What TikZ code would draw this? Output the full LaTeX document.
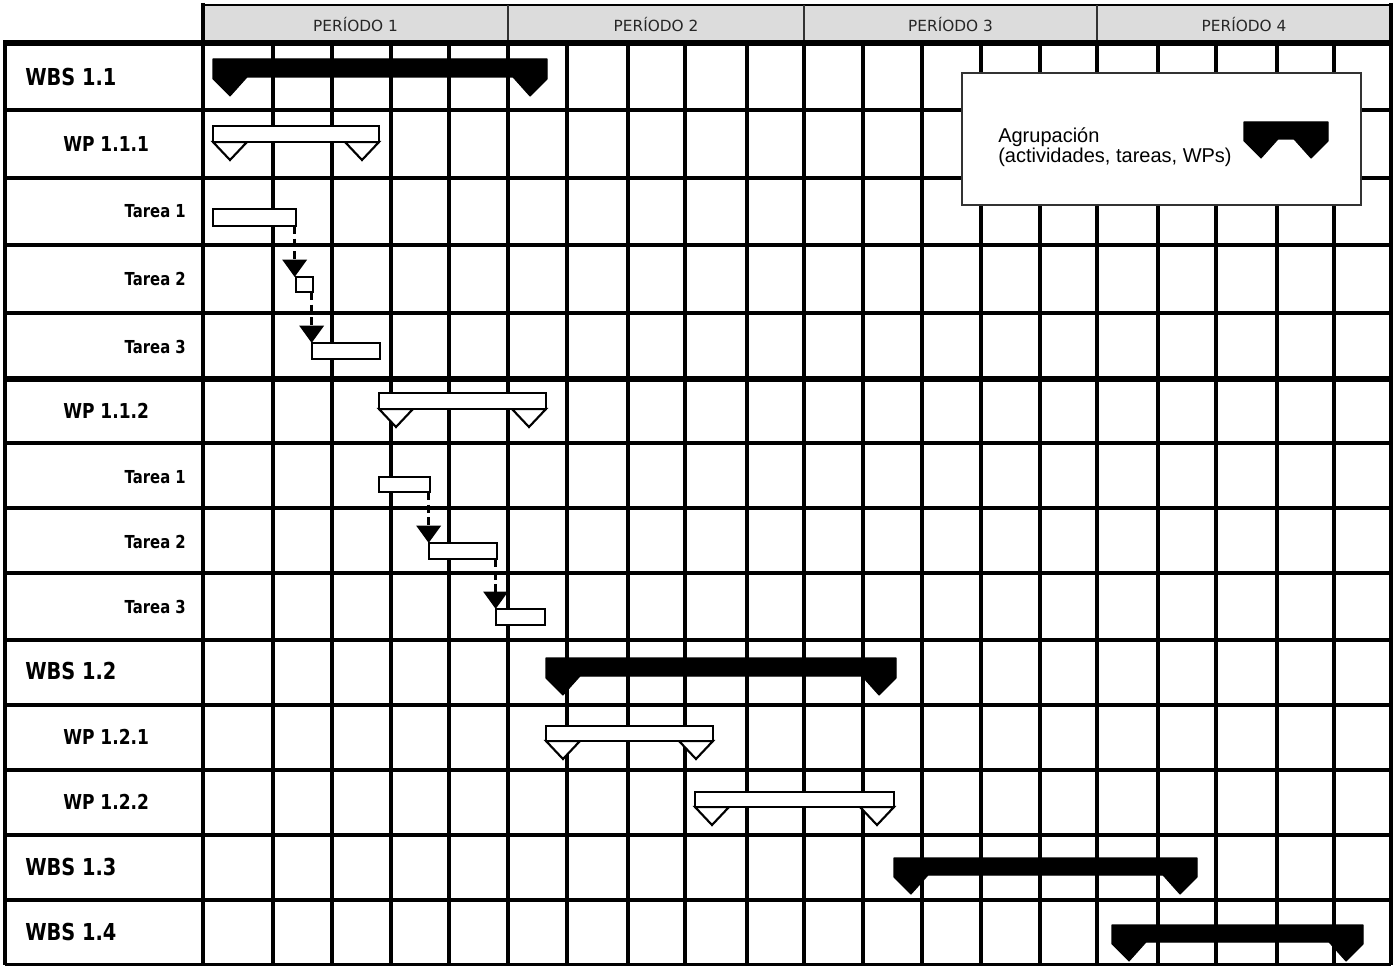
\documentclass[tikz,border=0pt]{standalone}
\usepackage{fontspec}
\setmainfont{Liberation Sans}
\newfontfamily\hdrfont{DejaVu Sans}
\newfontfamily\labfont{DejaVu Sans}
\usetikzlibrary{arrows.meta}
\definecolor{hdrgray}{HTML}{DCDCDC}
\newcommand\sq[1]{\scalebox{0.83}[1]{#1}}
% black pennant bar: #1 x1, #2 x2, #3 top, #4 thickness, #5 style
\newcommand\pen[5]{%
  \path[#5] (#1,#3) -- (#2,#3) -- (#2,{#3+#4+2}) -- ({#2-17},{#3+#4+19})
    -- ({#2-34},{#3+#4}) -- ({#1+34},{#3+#4}) -- ({#1+17},{#3+#4+19})
    -- (#1,{#3+#4+2}) -- cycle;}
% white pennant bar: rectangle with two hanging triangles
\newcommand\wpen[4]{%
  \path[whitebar] (#1,{#3+#4}) -- ({#1+17},{#3+#4+18}) -- ({#1+34},{#3+#4}) -- cycle;
  \path[whitebar] ({#2-34},{#3+#4}) -- ({#2-17},{#3+#4+18}) -- (#2,{#3+#4}) -- cycle;
  \path[whitebar] (#1,#3) rectangle (#2,{#3+#4});}
% task box: #1 name, #2 x1, #3 y1, #4 x2, #5 y2
\newcommand\task[5]{%
  \node[taskbox, minimum width={(#4-#2)*0.75pt}, minimum height={(#5-#3)*0.75pt}]
    (#1) at (#2,#3) {};}
\begin{document}
\begin{tikzpicture}[x=0.75pt,y=-0.75pt,
  gridline/.style={line width=3pt},
  thickline/.style={line width=4.5pt},
  hdrtext/.style={inner sep=0, text=black!85, font=\hdrfont\fontsize{11.5}{13}\selectfont},
  wbslab/.style={anchor=west, inner sep=0, font=\labfont\bfseries\fontsize{17.5}{20}\selectfont},
  wplab/.style={anchor=west, inner sep=0, font=\labfont\bfseries\fontsize{15.4}{18}\selectfont},
  tasklab/.style={anchor=east, inner sep=0, font=\labfont\bfseries\fontsize{13.4}{16}\selectfont},
  blackbar/.style={fill=black, draw=black, line width=0.8pt, line join=round},
  whitebar/.style={fill=white, draw=black, line width=1.6pt, line join=miter},
  taskbox/.style={draw=black, fill=white, line width=1.6pt, rectangle, anchor=north west, inner sep=0, outer sep=0},
  dep/.style={draw=black, line width=2.6pt, dash pattern=on 6pt off 3.5pt, -{Triangle[length=13pt,width=18pt]}},
  legendbox/.style={draw=black!80, fill=white, line width=1.6pt}
]
\useasboundingbox (0,0) rectangle (1397,966);
\fill[white] (0,0) rectangle (1397,966);

% header
\fill[hdrgray] (203,5) rectangle (1391,43);
\draw[line width=2pt] (203,5) -- (1391,5);
\foreach \x in {508,804,1097} \draw[line width=1.6pt, black!80] (\x,5) -- (\x,43);
\node[hdrtext] (p1) at (355.5,25) {PERÍODO 1};
\node[hdrtext] (p2) at (656,25) {PERÍODO 2};
\node[hdrtext] (p3) at (950.5,25) {PERÍODO 3};
\node[hdrtext] (p4) at (1244,25) {PERÍODO 4};

% grid
\foreach \x in {273,332,391,449,508,567,628,685,747,804,863,922,981,1040,1097,1158,1216,1277,1334}
  \draw[gridline] (\x,43) -- (\x,965);
\foreach \y in {110,178,245,313,443,508,573,640,705,770,835,900}
  \draw[gridline] (5,\y) -- (1391,\y);
\draw[thickline] (5,379) -- (1391,379);
\draw[gridline] (203,3) -- (203,965);
\draw[gridline] (1391,3) -- (1391,965);
\draw[gridline] (5,965) -- (1391,965);
\draw[gridline] (5,41) -- (5,965);
\draw[thickline] (3,43) -- (1393,43);

% row labels
\node[wbslab] (l1) at (25,77) {\sq{WBS 1.1}};
\node[wplab] (l2) at (63,144) {\sq{WP 1.1.1}};
\node[tasklab] (l3) at (186,211) {\sq{Tarea 1}};
\node[tasklab] (l4) at (186,279) {\sq{Tarea 2}};
\node[tasklab] (l5) at (186,347) {\sq{Tarea 3}};
\node[wplab] (l6) at (63,411) {\sq{WP 1.1.2}};
\node[tasklab] (l7) at (186,477) {\sq{Tarea 1}};
\node[tasklab] (l8) at (186,542) {\sq{Tarea 2}};
\node[tasklab] (l9) at (186,607) {\sq{Tarea 3}};
\node[wbslab] (l10) at (25,671) {\sq{WBS 1.2}};
\node[wplab] (l11) at (63,737) {\sq{WP 1.2.1}};
\node[wplab] (l12) at (63,802) {\sq{WP 1.2.2}};
\node[wbslab] (l13) at (25,867) {\sq{WBS 1.3}};
\node[wbslab] (l14) at (25,932) {\sq{WBS 1.4}};

% legend
\draw[legendbox] (962,73) rectangle (1361,205);
\node[anchor=west, inner sep=0, align=left, font=\fontsize{15}{15}\selectfont] (leg) at (998,147)
  {Agrupación\\(actividades, tareas, WPs)};
\pen{1244}{1328}{122}{17}{blackbar}

% summary bars
\pen{213}{547}{59}{18}{blackbar}
\pen{546}{896}{658}{18}{blackbar}
\pen{894}{1197}{858}{17}{blackbar}
\pen{1112}{1363}{925}{17}{blackbar}

% work packages
\wpen{213}{379}{126}{16}
\wpen{379}{546}{393}{16}
\wpen{546}{713}{726}{15}
\wpen{695}{894}{792}{15}

% tasks
\task{ta1}{213}{209}{296}{226}
\task{ta2}{296}{277}{313}{292}
\task{ta3}{312}{343}{380}{359}
\task{tb1}{379}{477}{430}{492}
\task{tb2}{429}{543}{497}{559}
\task{tb3}{496}{609}{545}{625}

% dependencies
\draw[dep] ([xshift=-1pt]ta1.south east) -- ([xshift=-1pt]ta1.south east |- ta2.north);
\draw[dep] ([xshift=-1pt]ta2.south east) -- ([xshift=-1pt]ta2.south east |- ta3.north);
\draw[dep] ([xshift=-1pt]tb1.south east) -- ([xshift=-1pt]tb1.south east |- tb2.north);
\draw[dep] ([xshift=-1pt]tb2.south east) -- ([xshift=-1pt]tb2.south east |- tb3.north);
\end{tikzpicture}
\end{document}
